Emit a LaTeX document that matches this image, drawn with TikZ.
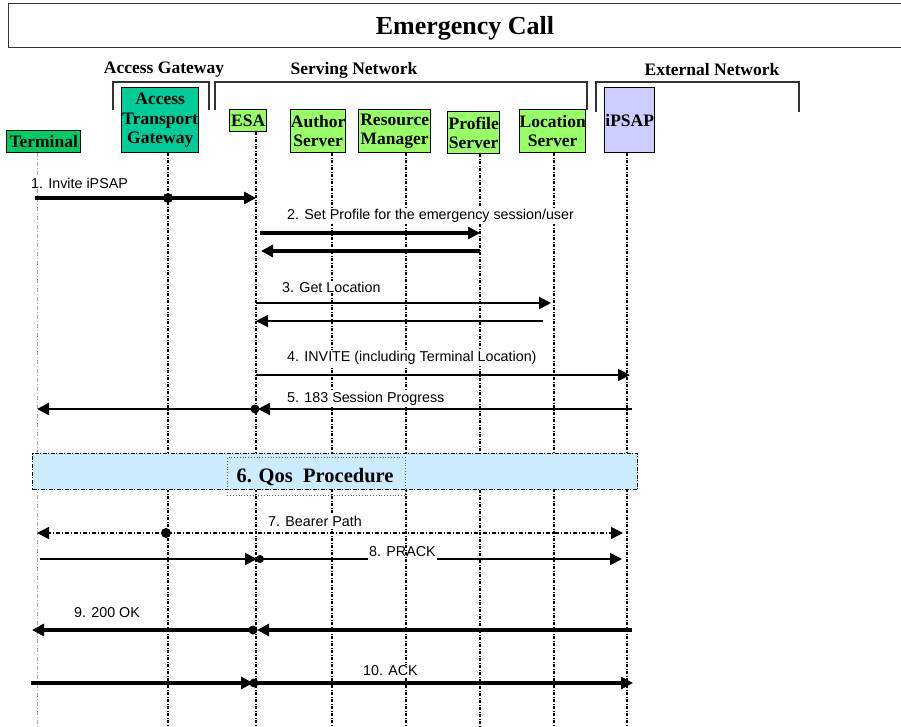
\documentclass[tikz,border=0pt]{standalone}
\usepackage{fontspec}
\setmainfont{Liberation Serif}
\newfontfamily\arialfont{Liberation Sans}
\usetikzlibrary{arrows.meta,calc}
\definecolor{termgreen}{RGB}{0,204,102}
\definecolor{atgteal}{RGB}{0,204,153}
\definecolor{litegreen}{RGB}{153,255,102}
\definecolor{lavender}{RGB}{204,204,255}
\definecolor{qosblue}{RGB}{204,236,255}
\definecolor{bracketgray}{RGB}{50,50,50}
\begin{document}
\begin{tikzpicture}[x=1pt,y=-1pt,
  ent/.style={draw=black,line width=1.4pt,anchor=north west,inner sep=0pt,align=center,
    font=\fontsize{17.5}{19.5}\selectfont\bfseries},
  grp/.style={font=\fontsize{17.5}{20}\selectfont\bfseries,inner sep=0pt},
  bracket/.style={draw=bracketgray,line width=1.6pt},
  lifeline/.style={line width=1.5pt,dash pattern=on 3pt off 1.5pt on 1pt off 1.5pt},
  termline/.style={gray!70,line width=0.6pt,dash pattern=on 4pt off 2pt on 1pt off 2pt},
  tip/.style={-{Triangle[length=12pt,width=12pt]}},
  msgthick/.style={line width=3.4pt,tip},
  msgthin/.style={line width=2pt,tip},
  msgbear/.style={line width=1.4pt,dash pattern=on 4pt off 2pt on 1pt off 2pt,tip},
  lbl/.style={font=\arialfont\fontsize{14.3}{16}\selectfont,anchor=west,inner sep=1pt,fill=white},
  dot/.style={fill=black}
]
\useasboundingbox (0,0) rectangle (901,727);

% title
\node[draw=black!80,line width=1.4pt,anchor=north west,minimum width=930pt,minimum height=44pt,inner sep=0pt] (titlebox) at (8,3) {};
\node[font=\fontsize{26}{30}\selectfont\bfseries] (title) at (465,28) {Emergency Call};

% groups
\node[grp] (gaccess) at (164,70) {Access Gateway};
\node[grp] (gserv) at (354,70) {Serving Network};
\node[grp] (gext) at (712,70) {External Network};
\coordinate (ba1) at (113,110); \coordinate (ba2) at (209,82);
\draw[bracket] (ba1) |- (ba2) -- (ba2 |- ba1);
\coordinate (bs1) at (215,110); \coordinate (bs2) at (587,82);
\draw[bracket] (bs1) |- (bs2) -- (bs2 |- bs1);
\coordinate (be1) at (596,112); \coordinate (be2) at (799,82);
\draw[bracket] (be1) |- (be2) -- (be2 |- be1);

% entities
\node[ent,fill=termgreen,text width=74pt,minimum height=22pt] (term) at (6,130) {Terminal};
\node[ent,fill=atgteal,text width=77pt,minimum height=65pt] (atg) at (121,87) {Access\\Transport\\Gateway};
\node[ent,fill=litegreen,text width=37pt,minimum height=22pt] (esa) at (229,109) {ESA};
\node[ent,fill=litegreen,text width=55pt,minimum height=43pt] (auth) at (290,109) {Author\\Server};
\node[ent,fill=litegreen,text width=72pt,minimum height=43pt] (res) at (358,109) {Resource\\Manager};
\node[ent,fill=litegreen,text width=52pt,minimum height=42pt] (prof) at (447,111) {Profile\\Server};
\node[ent,fill=litegreen,text width=66pt,minimum height=43pt] (loc) at (519,109) {Location\\Server};
\node[ent,fill=lavender,text width=50pt,minimum height=65pt] (ipsap) at (604,87) {iPSAP};

% lifelines
\coordinate (bottom) at (0,727);
\coordinate (Lterm) at (37,0);
\coordinate (Latg) at (168,0);
\coordinate (Lesa) at (256,0);
\coordinate (Lauth) at (332,0);
\coordinate (Lres) at (406,0);
\coordinate (Lprof) at (480,0);
\coordinate (Lloc) at (554,0);
\coordinate (Lipsap) at (627,0);
\draw[termline] (Lterm |- term.south) -- (Lterm |- bottom);
\draw[lifeline] (Latg |- atg.south) -- (Latg |- bottom);
\draw[lifeline] (Lesa |- esa.south) -- (Lesa |- bottom);
\draw[lifeline] (Lauth |- auth.south) -- (Lauth |- bottom);
\draw[lifeline] (Lres |- res.south) -- (Lres |- bottom);
\draw[lifeline] (Lprof |- prof.south) -- (Lprof |- bottom);
\draw[lifeline] (Lloc |- loc.south) -- (Lloc |- bottom);
\draw[lifeline] (Lipsap |- ipsap.south) -- (Lipsap |- bottom);

% rows
\coordinate (r1) at (0,198);
\coordinate (r2a) at (0,233);
\coordinate (r2b) at (0,251);
\coordinate (r3a) at (0,303);
\coordinate (r3b) at (0,321);
\coordinate (r4) at (0,375);
\coordinate (r5) at (0,409);
\coordinate (r7) at (0,533);
\coordinate (r8) at (0,559);
\coordinate (r9) at (0,630);
\coordinate (r10) at (0,683);

% 1
\node[lbl] (l1) at (30,183) {1. Invite iPSAP};
\draw[msgthick] ($(Lterm |- r1)+(-2,0)$) -- (Lesa |- r1);
\fill[dot] (Latg |- r1) circle[radius=5pt];
% 2
\node[lbl] (l2) at (286,216) {2. Set Profile for the emergency session/user};
\draw[msgthick] ($(Lesa |- r2a)+(4,0)$) -- (Lprof |- r2a);
\draw[msgthick] (Lprof |- r2b) -- ($(Lesa |- r2b)+(5,0)$);
% 3
\node[lbl] (l3) at (281,287) {3. Get Location};
\draw[msgthin] (Lesa |- r3a) -- ($(Lloc |- r3a)+(-3,0)$);
\draw[msgthin] ($(Lloc |- r3b)+(-11,0)$) -- (Lesa |- r3b);
% 4
\node[lbl] (l4) at (286,358) {4. INVITE (including Terminal Location)};
\draw[msgthin] (Lesa |- r4) -- ($(Lipsap |- r4)+(3,0)$);
% 5
\node[lbl] (l5) at (286,399) {5. 183 Session Progress};
\draw[msgthin,line width=2.3pt] ($(Lipsap |- r5)+(5,0)$) -- ($(Lesa |- r5)+(2,0)$);
\draw[msgthin,line width=2.3pt] (Lesa |- r5) -- (Lterm |- r5);
\fill[dot] ($(Lesa |- r5)+(-1,0)$) circle[radius=4.5pt];

% 6 QoS
\node[draw=black,fill=qosblue,line width=1.3pt,dash pattern=on 4pt off 1.5pt on 1pt off 1.5pt,
  anchor=north west,minimum width=605pt,minimum height=36pt,inner sep=0pt] (qos) at (32,453) {};
\node[draw=black!60,line width=0.8pt,dotted,anchor=north west,minimum width=178pt,minimum height=38pt,inner sep=0pt] (qosin) at (227,457) {};
\node[font=\fontsize{20.5}{24}\selectfont\bfseries,inner sep=0pt] (l6) at (315,477) {6. Qos\ \ Procedure};

% 7
\node[lbl] (l7) at (267,521) {7. Bearer Path};
\draw[msgbear] (Latg |- r7) -- ($(Lipsap |- r7)+(-4,0)$);
\draw[msgbear] (Latg |- r7) -- (Lterm |- r7);
\fill[dot] ($(Latg |- r7)+(-2,0)$) circle[radius=5pt];
% 8
\node[lbl,fill=none] (l8) at (368,552) {8. PRACK};
\draw[msgthin] ($(Lterm |- r8)+(3,0)$) -- ($(Lesa |- r8)+(1,0)$);
\draw[line width=2pt] ($(Lesa |- r8)+(4,0)$) -- (l8.west |- r8);
\draw[msgthin] (l8.east |- r8) -- ($(Lipsap |- r8)+(-5,0)$);
\fill[dot] ($(Lesa |- r8)+(4,0)$) circle[radius=4pt];
% 9
\node[lbl] (l9) at (73,613) {9. 200 OK};
\draw[msgthick] ($(Lipsap |- r9)+(5,0)$) -- ($(Lesa |- r9)+(1,0)$);
\draw[msgthick] ($(Lesa |- r9)+(-3,0)$) -- ($(Lterm |- r9)+(-5,0)$);
\fill[dot] ($(Lesa |- r9)+(-3,0)$) circle[radius=4.5pt];
% 10
\node[lbl] (l10) at (362,671) {10. ACK};
\draw[msgthick] ($(Lterm |- r10)+(-6,0)$) -- ($(Lesa |- r10)+(-3,0)$);
\draw[msgthick] (Lesa |- r10) -- ($(Lipsap |- r10)+(6,0)$);
\fill[dot] ($(Lesa |- r10)+(-2,0)$) circle[radius=4.5pt];
\end{tikzpicture}
\end{document}
